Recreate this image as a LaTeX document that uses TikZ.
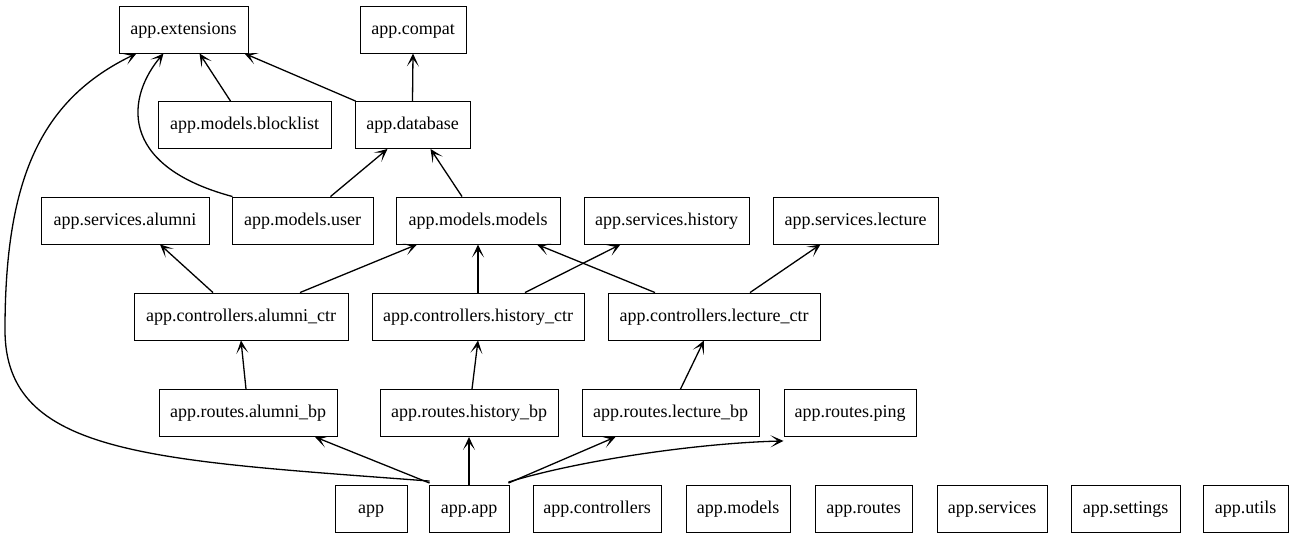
\documentclass[tikz,border=0pt]{standalone}
\usepackage{fontspec}
\setmainfont{LiberationSerif}[Extension=.ttf,UprightFont=*-Regular,BoldFont=*-Bold]
\usetikzlibrary{arrows.meta}
\begin{document}
\begin{tikzpicture}[x=1pt,y=-1pt,
  box/.style={draw,line width=0.9pt,minimum height=47pt,inner sep=0pt,text depth=4pt,text height=13pt,font=\rmfamily\fontsize{18}{20}\selectfont},
  dep/.style={line width=1.3pt,-{Stealth[length=13pt,width=12pt,inset=7.5pt]}}]
\useasboundingbox (0,0) rectangle (1292,539);
\node[box,minimum width=129pt] (ext) at (183.5,29.5) {app.extensions};
\node[box,minimum width=106pt] (compat) at (413,29.5) {app.compat};
\node[box,minimum width=173pt] (blocklist) at (244.5,125) {app.models.blocklist};
\node[box,minimum width=115pt] (database) at (412.5,125) {app.database};
\node[box,minimum width=168pt] (salumni) at (125,220.5) {app.services.alumni};
\node[box,minimum width=141pt] (user) at (302.5,220.5) {app.models.user};
\node[box,minimum width=164pt] (models) at (478,220.5) {app.models.models};
\node[box,minimum width=165pt] (shistory) at (666.5,220.5) {app.services.history};
\node[box,minimum width=165pt] (slecture) at (855.5,220.5) {app.services.lecture};
\node[box,minimum width=214pt] (calumni) at (241,316.5) {app.controllers.alumni\_ctr};
\node[box,minimum width=212pt] (chistory) at (478,316.5) {app.controllers.history\_ctr};
\node[box,minimum width=212pt] (clecture) at (714,316.5) {app.controllers.lecture\_ctr};
\node[box,minimum width=178pt] (ralumni) at (248,413) {app.routes.alumni\_bp};
\node[box,minimum width=178pt] (rhistory) at (469,413) {app.routes.history\_bp};
\node[box,minimum width=177pt] (rlecture) at (670.5,413) {app.routes.lecture\_bp};
\node[box,minimum width=132pt] (rping) at (850,413) {app.routes.ping};
\node[box,minimum width=72pt] (app) at (371,509) {app};
\node[box,minimum width=80pt] (appapp) at (469,509) {app.app};
\node[box,minimum width=128pt] (controllers) at (597,509) {app.controllers};
\node[box,minimum width=104pt] (models2) at (738,509) {app.models};
\node[box,minimum width=97pt] (routes) at (863.5,509) {app.routes};
\node[box,minimum width=110pt] (services) at (992,509) {app.services};
\node[box,minimum width=109pt] (settings) at (1125.5,509) {app.settings};
\node[box,minimum width=85pt] (utils) at (1245.5,509) {app.utils};
% app.app edges
\draw[dep] ([xshift=1pt,yshift=2pt]appapp.north west) -- ([xshift=67pt]ralumni.south);
\draw[dep] (appapp.north) -- (rhistory.south);
\draw[dep] ([xshift=-1pt,yshift=2pt]appapp.north east) -- ([xshift=-55pt]rlecture.south);
\draw[dep] ([xshift=-1pt,yshift=3pt]appapp.north east) .. controls (580,460) and (700,443) .. ([yshift=-4pt]rping.south west);
\draw[dep] ([xshift=1pt,yshift=4pt]appapp.north west) .. controls (150,460) and (5,455) .. (5,330) .. controls (5,180) and (40,100) .. ([xshift=-47pt]ext.south);
% routes -> controllers
\draw[dep] ([xshift=-2pt]ralumni.north) -- (calumni.south);
\draw[dep] ([xshift=3pt]rhistory.north) -- (chistory.south);
\draw[dep] ([xshift=10pt]rlecture.north) -- ([xshift=-10pt]clecture.south);
% controllers -> services/models
\draw[dep] ([xshift=-28pt]calumni.north) -- ([xshift=35pt]salumni.south);
\draw[dep] ([xshift=59pt]calumni.north) -- ([xshift=-61pt]models.south);
\draw[dep] (chistory.north) -- (models.south);
\draw[dep] ([xshift=47pt]chistory.north) -- ([xshift=-46pt]shistory.south);
\draw[dep] ([xshift=-59pt]clecture.north) -- ([xshift=59pt]models.south);
\draw[dep] ([xshift=36pt]clecture.north) -- ([xshift=-35pt]slecture.south);
% models -> database / extensions
\draw[dep] ([xshift=28pt]user.north) -- ([xshift=-25pt]database.south);
\draw[dep] ([xshift=-16pt]models.north) -- ([xshift=18pt]database.south);
\draw[dep] ([xshift=1pt]user.north west) .. controls (115,165) and (128,95) .. ([xshift=-20pt]ext.south);
\draw[dep] ([xshift=-14pt]blocklist.north) -- ([xshift=16pt]ext.south);
\draw[dep] ([xshift=1pt]database.north west) -- ([xshift=-4pt]ext.south east);
\draw[dep] (database.north) -- (compat.south);
\end{tikzpicture}
\end{document}
